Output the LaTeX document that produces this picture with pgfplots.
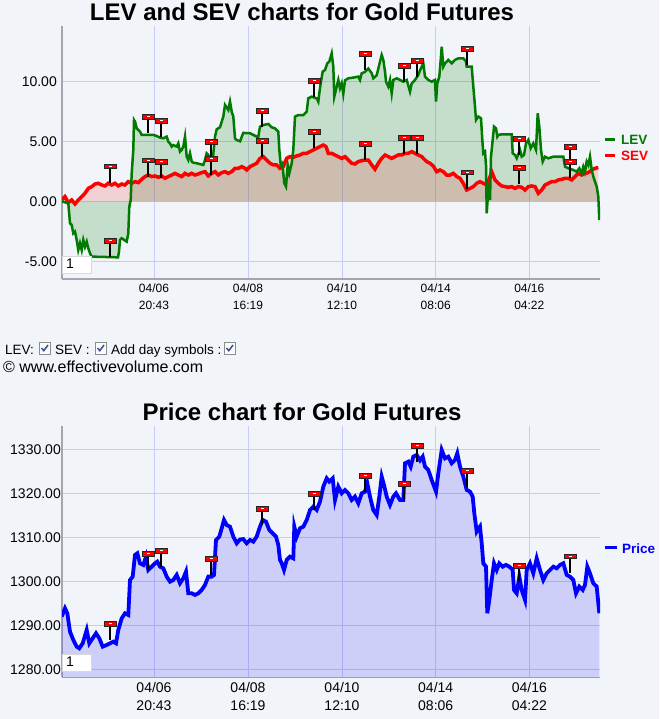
\documentclass[border=0pt]{standalone}
\usepackage{fontspec}
\setmainfont{Liberation Sans}
\usepackage{pgfplots}
\pgfplotsset{compat=1.18}
\usepackage{pgfplotstable}

\definecolor{bg}{RGB}{241,244,248}
\definecolor{gridc}{RGB}{202,202,250}
\definecolor{levc}{RGB}{0,122,0}
\definecolor{sevc}{RGB}{255,0,0}
\definecolor{pricec}{RGB}{0,0,255}
\definecolor{axc}{RGB}{165,165,178}
\definecolor{checkc}{RGB}{60,80,140}

% day symbol: black stem with a small red flag on top
\pgfdeclareplotmark{dayflag}{%
  \pgfsetlinewidth{1.4pt}\pgfsetstrokecolor{black}%
  \pgfpathmoveto{\pgfpoint{0pt}{0pt}}\pgfpathlineto{\pgfpoint{0pt}{14pt}}\pgfusepath{stroke}%
  \pgfsetlinewidth{0.9pt}\pgfsetfillcolor{red}\pgfsetstrokecolor{black!85}%
  \pgfpathrectangle{\pgfpoint{-6pt}{14pt}}{\pgfpoint{12pt}{4.5pt}}\pgfusepath{fill,stroke}%
  \pgfsetfillcolor{white}%
  \pgfpathrectangle{\pgfpoint{-1.5pt}{15.8pt}}{\pgfpoint{3pt}{1pt}}\pgfusepath{fill}%
}

\pgfplotsset{chart/.style={
  scale only axis, anchor=south west,
  width=538pt,
  xmin=62, xmax=600,
  axis x line*=bottom, axis y line*=left,
  axis line style={draw=axc, line width=1.5pt, -},
  grid=major, grid style={draw=gridc, line width=1pt},
  major tick length=0pt,
  xtick={154,248,342,435.7,529.3},
  xticklabels={{04/06\\20:43},{04/08\\16:19},{04/10\\12:10},{04/14\\08:06},{04/16\\04:22}},
  xticklabel style={align=center, inner sep=0pt, yshift=-5pt},
  yticklabel style={anchor=east, inner sep=0pt, font=\fontsize{14}{16}\selectfont},
}}

% LEV
\pgfplotstableread{
x y
61.7 0.00
68.3 -0.17
70 -1.83
71.7 -1.97
73.3 -2.67
75 -2.53
76.7 -3.22
78.3 -4.06
80 -3.5
81.7 -4.06
83.3 -3.22
85 -3.78
86.7 -3.36
88.3 -3.92
90 -4.33
91.7 -4.61
118 -4.67
119 -4.19
120 -3.22
121.7 -3.08
126.7 -3.36
128.3 -2.67
129.3 -0.44
130.7 0.11
131.7 2.33
133.3 4.28
134 6.78
135 6.64
136.7 6.08
140 5.81
141.7 5.53
146.7 5.53
153.3 5.53
156.7 5.44
160 5.31
163.3 5.25
166.7 5.39
168.3 4.97
170 4.83
171.7 4.56
173.3 4.69
176.7 4.56
178.3 4.83
180 4.14
181.7 4.28
183.3 4.56
185 5.39
186.7 3.72
188.3 3.44
190 4.0
191.7 3.31
193.3 3.22
196.7 3.17
203.3 3.03
205 3.44
206.7 4.0
208.3 3.86
210 3.44
212.7 3.44
215 5.39
216.7 6.0
220 6.17
223.3 7.06
225 8.03
228.3 7.61
230 8.31
231.7 7.47
233.3 7.06
235 5.25
236.7 5.11
240 5.0
243.3 5.7
250 5.67
256.7 5.39
258.3 5.39
260 6.22
263.3 6.36
268.3 6.44
271.7 6.17
275 6.08
276.7 5.94
278.3 5.81
279.3 4.28
280.7 3.03
282.3 3.17
283.3 2.33
284.3 1.5
286 1.22
287.7 3.03
289.3 2.33
291.7 3.17
293.3 4.28
295 7.06
298.3 7.19
303.3 7.19
306.7 7.47
308.3 8.58
311.7 8.72
316.7 8.58
318.3 8.31
319.3 9.0
320.7 9.83
322.7 10.81
325 10.94
327.3 11.5
329.3 11.64
331.7 12.33
333.3 11.22
334.3 8.72
336.7 9.56
338.3 10.11
340 9.42
341.7 9.83
343.3 8.97
345 10.08
348.3 10.25
353.3 10.31
358.3 10.39
360 10.11
361.7 10.67
365 10.78
368.3 11.06
371.7 10.67
373.3 10.25
376.7 10.5
380 11.64
381.7 12.19
383.3 11.78
385 10.81
386 9.97
388.3 9.56
390 10.11
391.7 9.0
393.3 10.11
396.7 10.25
400 10.11
403.3 9.97
406.7 10.11
410 9.14
411.7 9.83
415 10.11
418.3 10.53
420 10.9
423.3 11.5
425 10.39
428.3 10.11
431.7 9.97
435 10.11
436 8.31
437.3 9.83
439.3 10.39
440.7 11.78
441.7 12.89
443.3 11.22
445 11.5
448.3 11.78
451.7 11.5
455 11.78
458.3 11.92
463.3 11.92
466 11.64
466.7 11.22
471.7 11.22
473.3 9.56
475 7.89
476 6.78
478.3 7.06
481 6.92
482.3 5.11
483.3 4.0
485 4.14
486 3.0
486.7 -1.0
488.3 0.94
490 0.11
491 3.72
492.7 5.11
494 6.22
496 6.08
497.3 5.39
498.3 5.53
501.7 5.58
511.7 5.58
512.7 4.0
515 3.86
516.7 3.58
520 4.28
521.7 3.72
524 3.86
526 4.83
528.3 5.11
530.7 4.42
533.3 4.83
536 4.28
537.7 7.33
539.3 6.22
541 4.28
542.7 3.31
545 3.72
548.3 3.58
553.3 3.72
563.3 3.72
565 2.89
568.3 2.75
573.3 2.61
576.7 2.47
579.3 2.75
581.7 2.33
583.3 2.89
585 2.47
586.7 3.31
588.3 3.03
590 3.72
591.7 2.61
593.3 2.06
595 1.64
596.7 1.22
598.3 0.39
599.3 -1.56
}\levtable

% SEV
\pgfplotstableread{
x y
61.7 0.11
65 0.39
68.3 -0.11
71.7 0.11
75 -0.22
78.3 0.11
81.7 0.39
85 0.67
88.3 1.08
91.7 1.22
95 1.44
98.3 1.5
101.7 1.36
105 1.28
108.3 1.5
111.7 1.36
115 1.5
118.3 1.28
121.7 1.44
125 1.36
128.3 1.64
131.7 1.5
135 1.64
138.3 1.56
141.7 1.83
145 2.06
148.3 2.19
151.7 2.06
155 2.11
158.3 2.0
161.7 2.11
165 1.92
168.3 2.06
171.7 2.19
175 2.33
178.3 2.19
181.7 2.06
185 2.33
188.3 2.19
191.7 2.33
195 2.19
198.3 2.28
201.7 2.39
205 2.47
208.3 2.11
211.7 2.33
215 2.47
218.3 2.19
221.7 2.39
225 2.47
228.3 2.33
231.7 2.47
235 2.75
238.3 2.75
241.7 2.89
245 2.75
246.7 2.61
250 2.89
253.3 3.03
256.7 3.17
260 3.58
263.3 3.72
266.7 3.44
270 3.17
273.3 3.03
276.7 3.03
280 2.75
283.3 2.89
286.7 3.58
290 3.72
293.3 3.67
296.7 3.78
300 3.86
303.3 4.0
306.7 4.0
310 4.14
313.3 4.28
316.7 4.42
320 4.56
323.3 4.69
326 4.56
328.3 4.0
331.7 4.0
335 3.86
338.3 3.72
341.7 3.58
345 3.72
348.3 3.44
351.7 3.17
355 3.11
358.3 3.31
361.7 3.39
365 3.44
368.3 3.44
371.7 3.03
375 2.67
378.3 3.17
381.7 3.58
385 3.86
388.3 3.72
391.7 3.58
395 3.72
398.3 3.86
401.7 3.86
405 4.0
408.3 4.0
411.7 4.14
415 4.0
418.3 3.86
421.7 3.72
425 3.44
426.7 3.31
430 3.17
433.3 2.94
436.7 2.47
440 2.61
443.3 2.47
446.7 2.19
450 2.19
453.3 2.33
456.7 2.06
460 1.92
463.3 1.5
466.7 0.94
470 1.08
473.3 1.22
476.7 1.5
480 1.64
483.3 1.5
486.7 1.36
490 2.06
491.7 2.47
495 1.78
498.3 1.5
501.7 1.28
505 1.22
508.3 1.17
511.7 1.22
515 1.08
518.3 1.22
521.7 1.17
525 0.94
528.3 1.22
531.7 1.28
535 1.22
538.3 0.67
541.7 0.94
545 1.36
548.3 1.5
551.7 1.64
555 1.64
558.3 1.78
561.7 1.83
565 1.92
568.3 1.92
571.7 1.78
575 2.06
578.3 2.33
581.7 2.19
585 2.33
588.3 2.39
591.7 2.61
595 2.75
598.3 2.81
}\sevtable

% Price
\pgfplotstableread{
x y
61.7 1291.97
65 1293.86
67.3 1292.73
70 1288.56
73.3 1286.67
76.7 1285.15
79.3 1284.77
82.7 1285.91
86.7 1288.94
89.3 1285.91
92.7 1287.05
96 1288.18
99.3 1287.05
102.7 1285.15
106.7 1285.53
110 1285.91
113.3 1286.29
116 1285.91
118.3 1288.94
121.7 1291.59
125 1292.73
128.3 1292.35
130 1300.3
132.7 1301.06
135 1305.98
137.3 1306.36
140 1304.09
143.3 1303.71
146 1305.6
148.3 1302.58
151.7 1303.33
155 1304.09
157.3 1304.47
160 1303.33
163.3 1302.95
166.7 1301.06
170 1299.92
173.3 1300.3
176.7 1301.44
180 1299.55
183.3 1300.68
186 1302.2
188.3 1297.27
191.7 1297.27
195 1296.89
198.3 1297.27
201.7 1298.03
205 1299.17
208.3 1301.06
211.7 1301.06
214 1301.44
216 1309.39
219.3 1310.15
221.7 1312.05
224 1313.94
226.7 1312.8
230 1312.42
233.3 1310.15
236.7 1308.64
240 1309.5
243.3 1309.6
246.7 1308.64
250 1309.39
253.3 1309.01
256.7 1310.15
260 1312.42
262.7 1313.94
266 1313.56
269.3 1311.67
272.7 1310.91
276 1310.15
278.3 1308.26
280 1304.85
281.7 1304.09
284 1302.58
286.7 1304.85
290 1305.6
293.3 1305.23
294.3 1312.42
296.7 1310.15
300 1312.05
303.3 1312.42
306.7 1313.94
310 1316.21
313.3 1316.97
316.7 1316.21
320 1318.11
323.3 1321.52
326.7 1323.41
329.3 1322.65
332.7 1323.41
335 1318.48
338.3 1321.52
341.7 1320.0
345 1320.76
348.3 1320.0
351.7 1318.48
355 1319.24
358.3 1317.73
361.7 1320.0
365 1320.38
367.3 1322.27
370 1319.24
373.3 1316.21
376.7 1315.07
379.3 1319.24
381.7 1323.79
384 1321.89
386.7 1319.24
390 1317.35
393.3 1319.24
396 1320.0
400 1318.48
403.3 1318.48
405 1326.82
408.3 1327.2
410.7 1326.06
413.3 1328.33
416.7 1328.71
420 1327.5
422.7 1328.33
425 1326.06
428.3 1325.3
431.7 1323.03
436 1320.38
438.3 1324.54
441.7 1329.85
445 1327.95
448.3 1328.33
451.7 1326.82
455 1327.58
457.3 1329.09
460 1326.06
463.3 1323.79
466.7 1320.76
470 1320.38
472.7 1319.24
474.3 1315.45
476.7 1311.29
480 1312.42
481.7 1308.64
483.3 1304.09
486 1303.33
487.3 1292.73
489.3 1295.76
491.7 1300.3
494 1304.09
496.7 1302.58
499.3 1304.09
502.7 1303.33
506 1303.71
509.3 1303.33
512.7 1302.58
514 1298.03
516.7 1297.27
519.3 1301.06
521.7 1298.03
525 1295.76
526.7 1302.58
530 1304.09
533.3 1301.82
536.7 1305.23
540 1302.58
543.3 1300.3
546.7 1301.82
550 1302.58
553.3 1303.33
556.7 1302.95
560 1303.71
563.3 1304.09
566.7 1301.44
570 1301.06
573.3 1300.3
576 1297.27
579.3 1298.79
582.7 1298.03
585 1299.17
587.3 1303.33
590 1301.82
593.3 1299.55
596.7 1298.79
599.3 1292.73
}\pricetable

\begin{document}
\begin{tikzpicture}[x=1pt,y=1pt]
\fill[bg] (0,0) rectangle (659,719);

% ---- LEV / SEV chart ----
\begin{axis}[chart, at={(62pt,440pt)}, height=253pt,
  ymin=-6.475, ymax=14.61,
  ytick={-5,0,5,10}, yticklabels={-5.00,0.00,5.00,10.00},
  yticklabel style={xshift=-5pt},
  xticklabel style={font=\fontsize{12}{17}\selectfont}]
\addplot[draw=none, fill=levc, fill opacity=0.18] table {\levtable} \closedcycle;
\addplot[draw=none, fill=sevc, fill opacity=0.14] table {\sevtable} \closedcycle;
\addplot[sevc, line width=3.5pt] table {\sevtable};
\addplot[levc, line width=2.5pt] table {\levtable};
\addplot[only marks, mark=dayflag] coordinates {
 (110,1.53) (110,-4.64) (148,5.69) (161,5.36) (148,2.03) (161,1.94)
 (211,3.61) (211,2.19) (262,6.19) (262,3.69) (314,8.69) (314,4.44)
 (365,10.94) (365,3.44) (404,9.94) (417,10.36) (404,3.94) (417,3.94)
 (467,11.36) (467,1.03) (519,3.86) (519,1.44) (570,3.19) (570,1.94)};
\end{axis}

% ---- Price chart ----
\begin{axis}[chart, at={(62pt,41.7pt)}, height=251.3pt,
  ymin=1278.18, ymax=1335.3,
  ytick={1280,1290,1300,1310,1320,1330},
  yticklabels={1280.00,1290.00,1300.00,1310.00,1320.00,1330.00},
  yticklabel style={xshift=-1pt},
  xticklabel style={font=\fontsize{14}{17.5}\selectfont}]
\addplot[draw=none, fill=pricec, fill opacity=0.15] table {\pricetable} \closedcycle;
\addplot[pricec, line width=3.8pt] table {\pricetable};
\addplot[only marks, mark=dayflag] coordinates {
 (110,1286.66) (148,1302.57) (161,1303.25) (211,1301.43) (262,1312.8) (314,1316.2)
 (365,1320.3) (404,1318.48) (417,1327.1) (467,1321.4) (519,1299.8) (570,1301.9)};
\end{axis}

% titles
\node[anchor=base, font=\fontsize{24}{28}\selectfont\bfseries] at (302,698) {LEV and SEV charts for Gold Futures};
\node[anchor=base, font=\fontsize{24}{28}\selectfont\bfseries] at (302,298.3) {Price chart for Gold Futures};

% legends
\draw[levc, line width=3pt] (605,579) -- (615,579);
\node[anchor=base west, inner sep=0pt, text=levc, font=\fontsize{13.5}{16}\selectfont\bfseries] at (621,574) {LEV};
\draw[sevc, line width=3pt] (605,563) -- (615,563);
\node[anchor=base west, inner sep=0pt, text=sevc, font=\fontsize{13.5}{16}\selectfont\bfseries] at (621,558) {SEV};
\draw[pricec, line width=3pt] (605,171) -- (617,171);
\node[anchor=base west, inner sep=0pt, text=pricec, font=\fontsize{13.5}{16}\selectfont\bfseries] at (622,165.7) {Price};

% zoom boxes
\filldraw[fill=white, draw=black!15] (62.5,446) rectangle (91,463);
\node[anchor=base west, inner sep=0pt, font=\fontsize{14}{16}\selectfont] at (66,450) {1};
\filldraw[fill=white, draw=black!15] (62.5,48) rectangle (91.5,65);
\node[anchor=base west, inner sep=0pt, font=\fontsize{14}{16}\selectfont] at (66,52) {1};

% controls line
\begin{scope}[font=\fontsize{13.5}{16}\selectfont]
\node[anchor=base west, inner sep=0pt] at (5,364) {LEV:};
\node[anchor=base west, inner sep=0pt] at (55,364) {SEV :};
\node[anchor=base west, inner sep=0pt] at (111,364) {Add day symbols :};
\end{scope}
\foreach \bx in {39,95,224} {
  \filldraw[fill=white!92!gridc, draw=black!45, line width=0.9pt] (\bx,365) rectangle ++(11.5,11.5);
  \draw[checkc, line width=1.5pt] (\bx+2.5,371) -- (\bx+4.8,368.3) -- (\bx+9,374);
}
\node[anchor=base west, inner sep=0pt, font=\fontsize{16}{18}\selectfont] at (3,346) {© www.effectivevolume.com};

\pgfresetboundingbox
\useasboundingbox (0,0) rectangle (659,719);
\end{tikzpicture}
\end{document}
